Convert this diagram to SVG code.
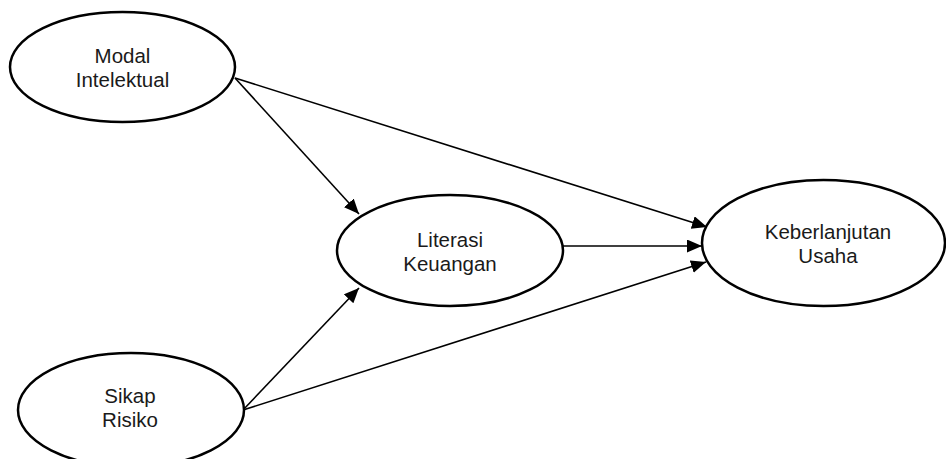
<svg xmlns="http://www.w3.org/2000/svg" width="946" height="459" viewBox="0 0 946 459">
<style>
.node ellipse{fill:#fff;stroke:#000;stroke-width:2.5}
.node text{font-family:"Liberation Sans",Arial,sans-serif;font-size:20.5px;fill:#1a1a1a;text-anchor:middle}
.edges line{stroke:#000;stroke-width:1.6;marker-end:url(#ah)}
</style>
<defs>
<marker id="ah" markerUnits="userSpaceOnUse" markerWidth="16" markerHeight="14" refX="15" refY="6.5" orient="auto">
<path d="M0,0 L15,6.5 L0,13 Z" fill="#000"/>
</marker>
</defs>
<rect width="946" height="459" fill="#fff"/>
<g class="edges">
<line x1="235" y1="78" x2="359" y2="214"/>
<line x1="235" y1="78" x2="707" y2="227"/>
<line x1="563" y1="246" x2="702" y2="246"/>
<line x1="243" y1="410" x2="359" y2="288"/>
<line x1="243" y1="410" x2="706" y2="262"/>
</g>
<g id="modal" class="node">
<ellipse cx="122.5" cy="67" rx="112.5" ry="55"/>
<text x="122.5" y="63">Modal</text>
<text x="122.5" y="87">Intelektual</text>
</g>
<g id="sikap" class="node">
<ellipse cx="131" cy="410" rx="113" ry="57"/>
<text x="130" y="403">Sikap</text>
<text x="130" y="427">Risiko</text>
</g>
<g id="literasi" class="node">
<ellipse cx="450" cy="250.5" rx="113" ry="55.5"/>
<text x="450" y="247">Literasi</text>
<text x="450" y="271">Keuangan</text>
</g>
<g id="keberlanjutan" class="node">
<ellipse cx="823.5" cy="243" rx="121.5" ry="63"/>
<text x="828" y="239">Keberlanjutan</text>
<text x="828" y="263">Usaha</text>
</g>
</svg>
